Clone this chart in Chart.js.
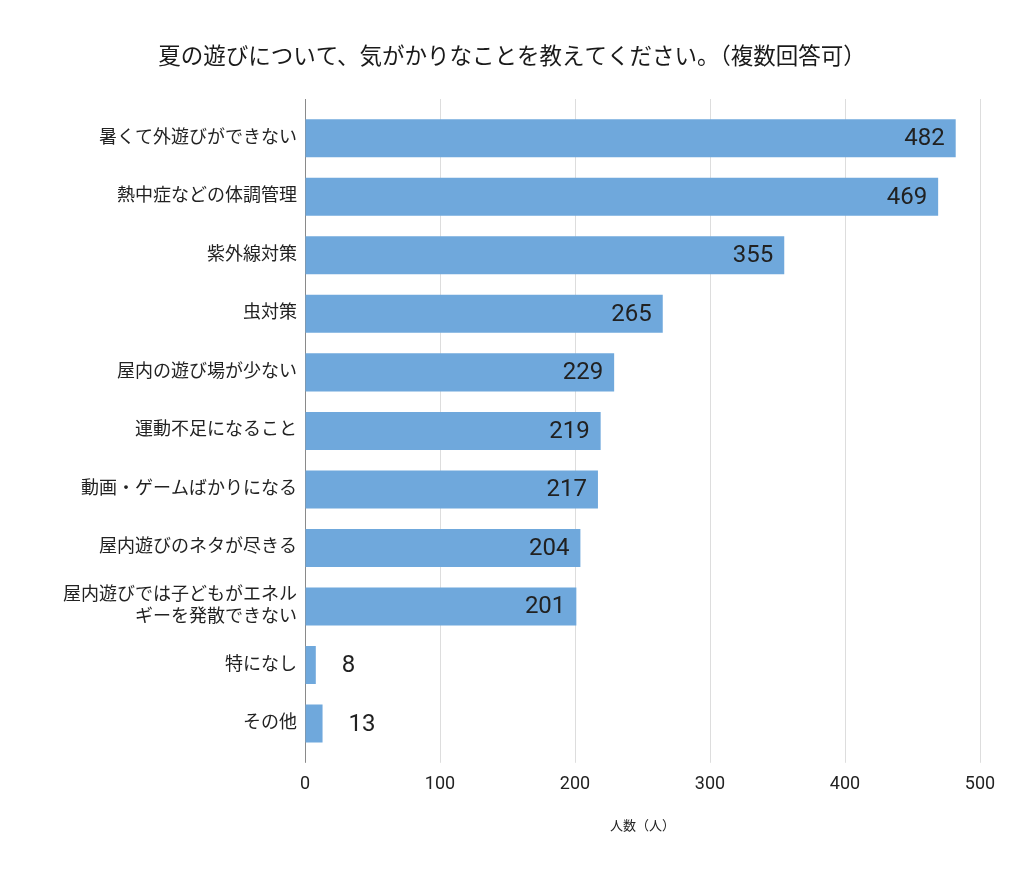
<!DOCTYPE html>
<html lang="ja">
<head>
<meta charset="utf-8">
<script src="https://cdn.jsdelivr.net/npm/chart.js@4/dist/chart.umd.min.js"></script>
<style>
  html, body { margin: 0; padding: 0; background: #fff; }
  #wrap { width: 1024px; height: 878px; }
</style>
</head>
<body>
<div id="wrap"><canvas id="myChart" width="1024" height="878"></canvas></div>
<script>
// data
var categories = [
  '暑くて外遊びができない',
  '熱中症などの体調管理',
  '紫外線対策',
  '虫対策',
  '屋内の遊び場が少ない',
  '運動不足になること',
  '動画・ゲームばかりになる',
  '屋内遊びのネタが尽きる',
  ['屋内遊びでは子どもがエネル', 'ギーを発散できない'],
  '特になし',
  'その他'
];
var counts = [482, 469, 355, 265, 229, 219, 217, 204, 201, 8, 13];
var xTicks = [0, 100, 200, 300, 400, 500];

var titleText = '夏の遊びについて、気がかりなことを教えてください。（複数回答可）';
var xTitle = '人数（人）';

var fontFam = "Roboto, 'Noto Sans CJK JP', sans-serif";

// value labels at the bar ends
var barLabels = {
  id: 'barLabels',
  afterDatasetsDraw: function(chart) {
    var ctx = chart.ctx;
    var meta = chart.getDatasetMeta(0);
    ctx.save();
    ctx.font = '24px ' + fontFam;
    ctx.fillStyle = '#212121';
    ctx.textBaseline = 'middle';
    meta.data.forEach(function(bar, i) {
      var v = counts[i];
      if (v > 50) {
        ctx.textAlign = 'right';
        ctx.fillText(String(v), bar.x - 11, bar.y + 1);
      } else {
        ctx.textAlign = 'left';
        ctx.fillText(String(v), bar.x + 26, bar.y + 1);
      }
    });
    ctx.restore();
  }
};

// grid lines run a little above the plot
var gridTop = {
  id: 'gridTop',
  beforeDatasetsDraw: function(chart) {
    var ctx = chart.ctx;
    var xs = chart.scales.x;
    var top = chart.chartArea.top;
    ctx.save();
    ctx.lineWidth = 1;
    xTicks.forEach(function(t) {
      var px = Math.round(xs.getPixelForValue(t)) + 0.5;
      ctx.strokeStyle = t === 0 ? '#8a8a8a' : '#dddddd';
      ctx.beginPath();
      ctx.moveTo(px, top - 10);
      ctx.lineTo(px, top);
      ctx.stroke();
    });
    ctx.restore();
  }
};

var ctx = document.getElementById('myChart');
var myChart = new Chart(ctx, {
  type: 'bar',
  data: {
    labels: categories,
    datasets: [{
      data: counts,
      backgroundColor: '#6fa8dc',
      borderWidth: 0,
      borderRadius: 0,
      barPercentage: 0.65,
      categoryPercentage: 1.0
    }]
  },
  options: {
    indexAxis: 'y',
    responsive: false,
    animation: false,
    layout: { padding: { left: 44, right: 44, top: 0, bottom: 39 } },
    plugins: {
      legend: { display: false },
      tooltip: { enabled: false },
      title: {
        display: true,
        text: titleText,
        color: '#1a1a1a',
        font: { family: fontFam, size: 22.5, weight: 'normal' },
        padding: { top: 45, bottom: 37 }
      }
    },
    scales: {
      x: {
        min: 0,
        max: 500,
        afterBuildTicks: function(scale) {
          scale.ticks = xTicks.map(function(v) { return { value: v }; });
        },
        grid: {
          color: function(c) { return c.tick && c.tick.value === 0 ? '#8a8a8a' : '#dddddd'; },
          drawTicks: true,
          tickLength: 10,
          lineWidth: 1
        },
        border: { display: false },
        ticks: {
          color: '#222',
          font: { family: fontFam, size: 18 },
          padding: 11,
          maxRotation: 0
        },
        title: {
          display: true,
          text: xTitle,
          color: '#222',
          font: { family: fontFam, size: 13 },
          padding: { top: 13, bottom: 4 }
        }
      },
      y: {
        afterFit: function(scale) { scale.width = 261; },
        grid: { display: false },
        border: { display: false },
        ticks: {
          color: '#222',
          font: { family: fontFam, size: 18 },
          padding: 0,
          autoSkip: false
        }
      }
    }
  },
  plugins: [gridTop, barLabels]
});
</script>
</body>
</html>
